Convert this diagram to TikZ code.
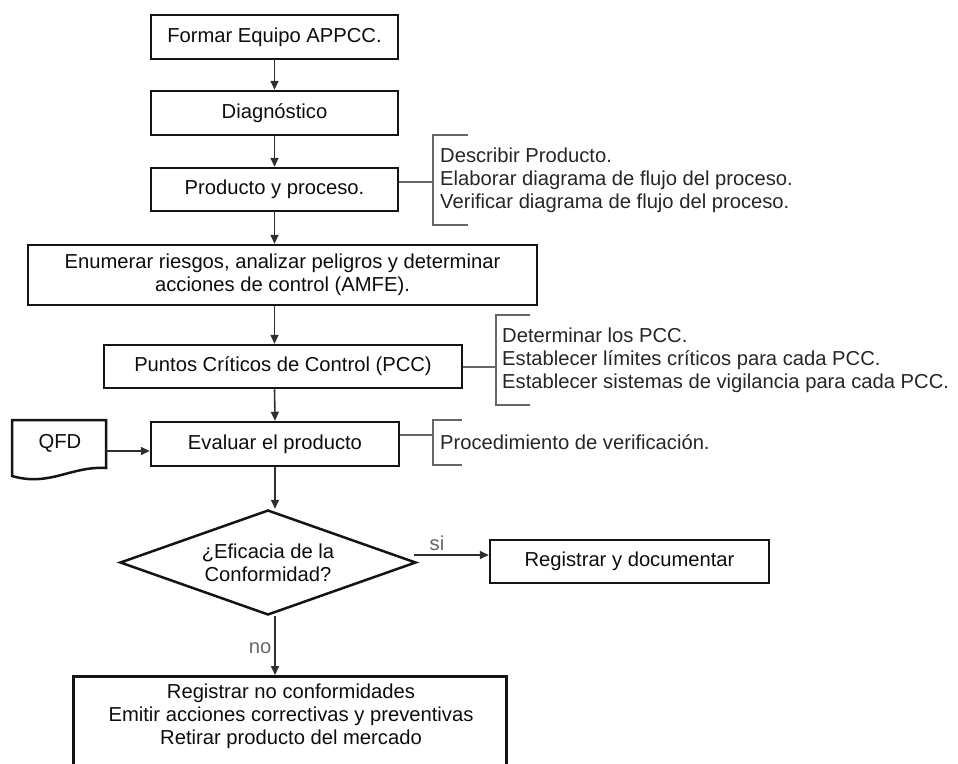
\documentclass[tikz,border=0pt]{standalone}
\usepackage{fontspec}
\setmainfont{Liberation Sans}
\usetikzlibrary{arrows.meta,shapes.geometric,calc}
\begin{document}
\begin{tikzpicture}[x=1pt,y=-1pt,
  font=\fontsize{20.2}{23}\selectfont,
  box/.style={draw=black!92, line width=2.5pt, inner sep=0pt, align=center, text=black!95},
  arr/.style={draw=black!82, line width=1.6pt, -{Triangle[length=9pt,width=8pt]}},
  brk/.style={draw=black!60, line width=1.3pt},
  note/.style={anchor=west, align=left, inner sep=0pt, text=black!85},
  lab/.style={text=black!60, inner sep=0pt}]
\clip (0,0) rectangle (958,763);
\fill[white] (0,0) rectangle (958,763);

% main boxes
\node[box, minimum width=247pt, minimum height=44pt] (b1) at (274.5,37) {Formar Equipo APPCC.};
\node[box, minimum width=247pt, minimum height=44pt] (b2) at (274.5,113) {Diagnóstico};
\node[box, minimum width=247pt, minimum height=43pt] (b3) at (274.5,189.5) {Producto y proceso.};
\node[box, minimum width=509pt, minimum height=60pt] (b4) at (282.5,275) {Enumerar riesgos, analizar peligros y determinar\\acciones de control (AMFE).};
\node[box, minimum width=358pt, minimum height=43pt] (b5) at (283,366.5) {Puntos Críticos de Control (PCC)};
\node[box, minimum width=248pt, minimum height=44pt] (b6) at (275,444) {Evaluar el producto};
\node[box, shape=diamond, aspect=2.8, minimum width=296pt, minimum height=105pt] (dia) at (268,562.5) {¿Eficacia de la\\Conformidad?};
\node[box, minimum width=279pt, minimum height=43pt] (b7) at (629.5,561.5) {Registrar y documentar};
\node[box, minimum width=433pt, minimum height=150pt, anchor=north] (b8) at (290,675) {};
\node[inner sep=0pt, align=center, text=black!95] (b8t) at (291,716.5) {Registrar no conformidades\\Emitir acciones correctivas y preventivas\\Retirar producto del mercado};

% QFD document
\draw[line width=2.5pt, draw=black!92] (12,420) -- (106,420) -- (106,468) .. controls (70,466) and (50,487) .. (12,476) -- cycle;
\node[inner sep=0pt, text=black!95] (qfd) at (60,443) {QFD};
\coordinate (qfdr) at (106,451);
\draw[arr] (qfdr) -- (qfdr -| b6.west);

% flow arrows
\draw[arr] (b1.south) -- (b2.north);
\draw[arr] (b2.south) -- (b3.north);
\draw[arr] (b3.south) -- (b3.south |- b4.north);
\draw[arr] (b3.south |- b4.south) -- (b3.south |- b5.north);
\draw[arr] (b3.south |- b5.south) -- (b6.north);
\draw[arr] (b6.south) -- (b6.south |- dia.north);
\draw[arr] (b6.south |- dia.south) -- (b6.south |- b8.north);
\coordinate (si0) at (414,555);
\draw[arr] (si0) -- (si0 -| b7.west);
\node[lab] (si) at (437,543) {si};
\node[lab] (no) at (260,648) {no};

% bracket 1
\coordinate (k1) at (433,182);
\draw[brk] (k1 -| b3.east) -- (k1);
\draw[brk] (468,135) -- (433,135) -- (433,225) -- (468,225);
\node[note] (n1) at (440,180) {Describir Producto.\\Elaborar diagrama de flujo del proceso.\\Verificar diagrama de flujo del proceso.};

% bracket 2
\coordinate (k2) at (496,367);
\draw[brk] (k2 -| b5.east) -- (k2);
\draw[brk] (530,315) -- (496,315) -- (496,405) -- (530,405);
\node[note] (n2) at (502,360) {Determinar los PCC.\\Establecer límites críticos para cada PCC.\\Establecer sistemas de vigilancia para cada PCC.};

% bracket 3
\coordinate (k3) at (433,435);
\draw[brk] (k3 -| b6.east) -- (k3);
\draw[brk] (462,420) -- (433,420) -- (433,465) -- (462,465);
\node[note] (n3) at (440,442) {Procedimiento de verificación.};
\end{tikzpicture}
\end{document}
